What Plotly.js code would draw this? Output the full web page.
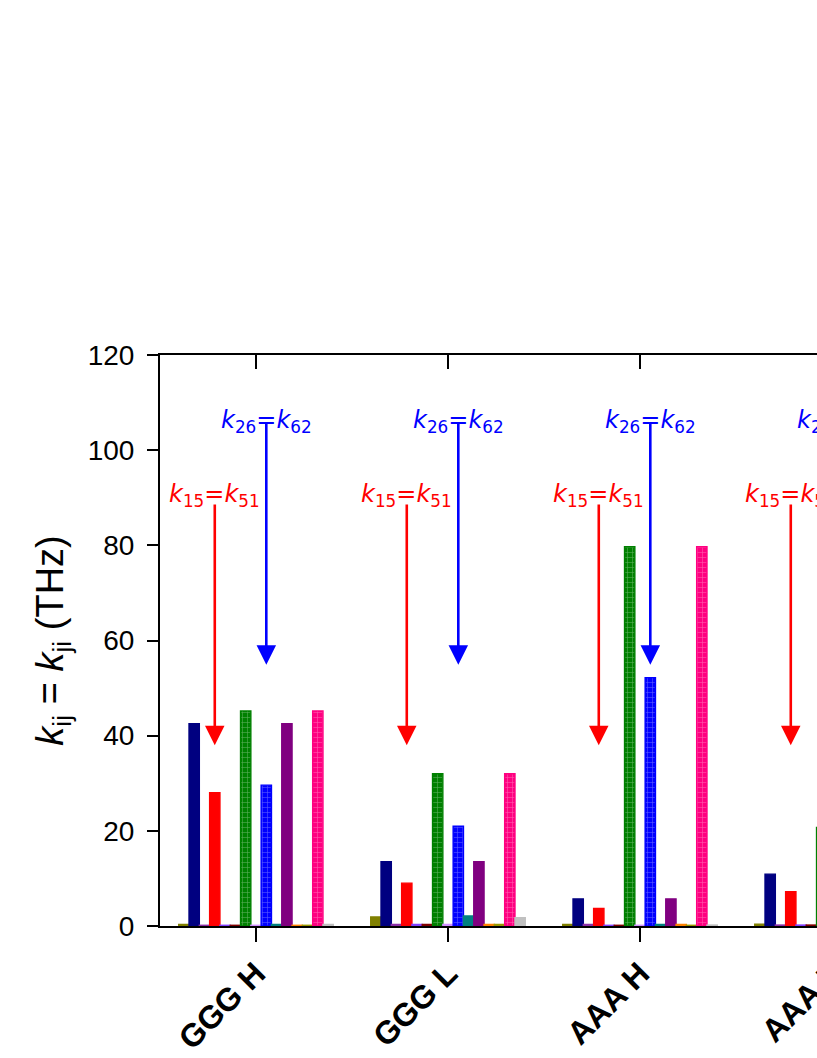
<!DOCTYPE html>
<html><head><meta charset="utf-8">
<script src="https://cdn.plot.ly/plotly-3.0.1.min.js"></script>
<style>html,body{margin:0;padding:0;overflow:hidden;background:#fff}</style>
</head><body><div id="chart"></div>
<script>
// ---- data ----
const categories = ['GGG H', 'GGG L', 'AAA H', 'AAA L'];
const pairNames = ['k12','k13','k14','k15','k16','k23','k24','k25','k26','k34','k35','k36','k45','k46','k56'];
const k12 = [0.3, 1.9, 0.3, 0.4];
const k13 = [42.5, 13.5, 5.7, 10.9];
const k14 = [0.15, 0.3, 0.3, 0.2];
const k15 = [28.0, 9.0, 3.7, 7.2];
const k16 = [0.15, 0.3, 0.15, 0.2];
const k23 = [0.15, 0.3, 0.15, 0.2];
const k24 = [45.2, 32.0, 79.7, 20.7];
const k25 = [0.15, 0.3, 0.15, 0.2];
const k26 = [29.6, 21.0, 52.2, 13.0];
const k34 = [0.3, 2.1, 0.3, 0.3];
const k35 = [42.5, 13.5, 5.7, 10.9];
const k36 = [0.15, 0.3, 0.3, 0.2];
const k45 = [0.15, 0.3, 0.15, 0.2];
const k46 = [45.2, 32.0, 79.7, 20.7];
const k56 = [0.3, 1.75, 0.2, 0.3];
const seriesValues = [k12,k13,k14,k15,k16,k23,k24,k25,k26,k34,k35,k36,k45,k46,k56];

// annotation values (arrow tip / start, label level)
const redArrowTip = 38.0, redArrowStart = 88.9, redLabelY = 90.4;
const blueArrowTip = 54.9, blueArrowStart = 105.9, blueLabelY = 106.0;

// ---- style ----
const colors = ['#808000','#000080','#8B2FA8','#FF0000','#8040FF','#800000','#008000','#D090FF',
                '#0000FF','#008080','#800080','#FF8000','#999900','#FF0080','#C0C0C0'];
const hatched = ['k24','k26','k46'];
const bargap = 0.195;

const traces = pairNames.map((name, i) => {
  const isH = hatched.includes(name);
  return {
    type: 'bar', name: name, x: categories, y: seriesValues[i],
    marker: {
      color: colors[i],
      line: {color: colors[i], width: 1.4},
      pattern: isH ? {shape: '+', fgcolor: 'rgba(255,255,255,0.7)', size: 5, solidity: 0.22, fillmode: 'overlay'} : {shape: ''}
    },
    hoverinfo: 'skip', showlegend: false
  };
});
// dummy trace for top axis
traces.push({type: 'scatter', x: [0], y: [0], xaxis: 'x2', yaxis: 'y', mode: 'markers',
  marker: {opacity: 0}, showlegend: false, hoverinfo: 'skip'});

const slotW = (1 - bargap) / pairNames.length;
const slotOffset = s => (s - (pairNames.length - 1) / 2) * slotW;
const redX = slotOffset(pairNames.indexOf('k15'));
const blueX = slotOffset(pairNames.indexOf('k26'));

const annFont = {family: 'DejaVu Sans, Arial, sans-serif', size: 24};
const annotations = [];
categories.forEach((c, g) => {
  annotations.push({x: g + blueX, y: blueArrowTip, ax: g + blueX, ay: blueArrowStart, axref: 'x', ayref: 'y',
    xref: 'x', yref: 'y', text: '', showarrow: true, arrowhead: 2, arrowsize: 1.5, arrowwidth: 2.6, arrowcolor: '#0000FF'});
  annotations.push({x: g + redX, y: redArrowTip, ax: g + redX, ay: redArrowStart, axref: 'x', ayref: 'y',
    xref: 'x', yref: 'y', text: '', showarrow: true, arrowhead: 2, arrowsize: 1.5, arrowwidth: 2.6, arrowcolor: '#FF0000'});
  annotations.push({x: g + blueX, y: blueLabelY, xref: 'x', yref: 'y', showarrow: false, xanchor: 'center', yanchor: 'middle',
    text: '<i>k</i><sub>26</sub>=<i>k</i><sub>62</sub>', font: Object.assign({color: '#0000FF'}, annFont)});
  annotations.push({x: g + redX, y: redLabelY, xref: 'x', yref: 'y', showarrow: false, xanchor: 'center', yanchor: 'middle',
    text: '<i>k</i><sub>15</sub>=<i>k</i><sub>51</sub>', font: Object.assign({color: '#FF0000'}, annFont)});
});

const layout = {
  width: 960, height: 1058,
  margin: {l: 160, r: 32, t: 355, b: 132},
  paper_bgcolor: '#fff', plot_bgcolor: '#fff',
  font: {family: 'Arial, Liberation Sans, sans-serif', color: '#000'},
  barmode: 'group', bargap: bargap, bargroupgap: 0,
  xaxis: {type: 'category', categoryorder: 'array', categoryarray: categories, range: [-0.5, categories.length - 0.5],
    showline: true, linewidth: 2, linecolor: '#000', ticks: 'outside', ticklen: 14, tickwidth: 2, tickcolor: '#000',
    tickangle: -45, tickfont: {size: 32, weight: 'bold', color: '#000'}, showgrid: false, zeroline: false, fixedrange: true},
  xaxis2: {overlaying: 'x', side: 'top', anchor: 'y', type: 'linear', range: [-0.5, categories.length - 0.5],
    tickvals: categories.map((c, i) => i), ticks: 'inside', ticklen: 14, tickwidth: 2, tickcolor: '#000',
    showline: true, linewidth: 2, linecolor: '#000', showticklabels: false, showgrid: false, zeroline: false},
  yaxis: {range: [0, 120], dtick: 20, showline: true, linewidth: 2, linecolor: '#000', ticks: 'outside', ticklen: 11,
    tickwidth: 2, tickcolor: '#000', tickfont: {size: 28}, ticklabelstandoff: 7, showgrid: false, zeroline: false,
    title: {text: '<i>k</i><sub>ij</sub> = <i>k</i><sub>ji</sub> (THz)', font: {size: 38}, standoff: 12}},
  annotations: annotations
};

Plotly.newPlot('chart', traces, layout, {displayModeBar: false, staticPlot: true});
</script>
</body></html>
